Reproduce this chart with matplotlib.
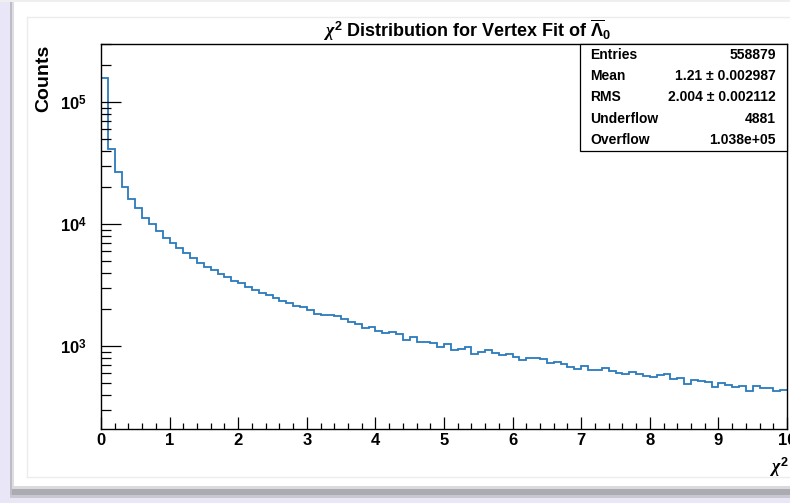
import matplotlib
matplotlib.use("Agg")
import matplotlib.pyplot as plt
import numpy as np
from matplotlib.patches import Rectangle
from matplotlib.lines import Line2D
from matplotlib.ticker import LogLocator, MultipleLocator, FuncFormatter, NullFormatter

plt.rcParams['font.family'] = ['Liberation Sans', 'DejaVu Sans']
plt.rcParams['font.weight'] = 'bold'
plt.rcParams['mathtext.fontset'] = 'custom'
plt.rcParams['mathtext.rm'] = 'Liberation Sans:bold'
plt.rcParams['mathtext.bf'] = 'Liberation Sans:bold'
plt.rcParams['mathtext.sf'] = 'Liberation Sans:bold'
plt.rcParams['mathtext.it'] = 'Liberation Serif:italic'

# ---------------- data ----------------
x_range = (0.0, 10.0)
n_bins = 100
counts = [
    159000, 41200, 26700, 20100, 16100, 13500, 11200, 10000, 8800, 7680,
    6990, 6360, 5790, 5270, 4790, 4490, 4170, 3900, 3700, 3430,
    3260, 3060, 2880, 2740, 2600, 2470, 2360, 2250, 2140, 2090,
    1970, 1840, 1800, 1790, 1750, 1660, 1580, 1520, 1400, 1430,
    1320, 1280, 1300, 1250, 1130, 1180, 1080, 1075, 1060, 980,
    1040, 930, 945, 990, 865, 900, 920, 875, 850, 860,
    812, 772, 797, 795, 787, 725, 737, 712, 673, 648,
    690, 639, 636, 655, 619, 601, 590, 612, 588, 563,
    553, 582, 593, 537, 547, 488, 522, 513, 503, 461,
    497, 475, 460, 467, 430, 466, 453, 452, 425, 438,
]
stat_names = ["Entries", "Mean", "RMS", "Underflow", "Overflow"]
stat_values = ["558879", "1.21 \u00b1 0.002987", "2.004 \u00b1 0.002112", "4881", "1.038e+05"]
title = r"$\chi^2$ Distribution for Vertex Fit of $\overline{\Lambda}_0$"
y_title = "Counts"
x_title = r"$\chi^2$"
y_limits = (210, 3.0e5)

# ---------------- figure ----------------
W, H = 790, 503
fig = plt.figure(figsize=(W / 100, H / 100), dpi=100)
fig.patch.set_facecolor("white")


def prect(x0, y0, x1, y1, color, z=-10):
    fig.add_artist(Rectangle((x0 / W, 1 - y1 / H), (x1 - x0) / W, (y1 - y0) / H,
                             transform=fig.transFigure, facecolor=color, lw=0, zorder=z))


def pline(xs, ys, color, lw=1.0):
    fig.add_artist(Line2D([x / W for x in xs], [1 - y / H for y in ys],
                          transform=fig.transFigure, color=color, lw=lw, zorder=-5))


lav = "#E9E6F8"
prect(0, 0, 10, H, lav)
prect(10, 0, 12, 498, "#BEBDC6")
prect(12, 0, 14, 496, "#DEDDE3")
prect(0, 0, W, 2, "#EFEFEF")
prect(12, 486, W, 489, "#D9D9DE")
prect(12, 489, W, 495, "#ABABB2")
prect(10, 495, W, 498, "#C9C8D1")
prect(0, 498, W, H, lav)
pline([26.5, 26.5], [17, 477], "#ECECEC")
pline([26.5, W], [17, 17], "#ECECEC")
pline([26.5, W], [477, 477], "#ECECEC")

ax_l, ax_r, ax_t, ax_b = 101, 787, 44, 428.7
ax = fig.add_axes([ax_l / W, 1 - ax_b / H, (ax_r - ax_l) / W, (ax_b - ax_t) / H])

edges = np.linspace(x_range[0], x_range[1], n_bins + 1)
ax.stairs(counts, edges, baseline=None, color="#2b7bbd", lw=1.3)

ax.set_yscale("log")
ax.set_xlim(*x_range)
ax.set_ylim(*y_limits)

for s in ax.spines.values():
    s.set_linewidth(1.0)
    s.set_color("black")

ax.xaxis.set_major_locator(MultipleLocator(1))
ax.xaxis.set_minor_locator(MultipleLocator(0.2))
ax.yaxis.set_major_locator(LogLocator(base=10, numticks=10))
ax.yaxis.set_minor_locator(LogLocator(base=10, subs=np.arange(2, 10), numticks=20))
ax.yaxis.set_major_formatter(FuncFormatter(lambda v, p: r"$10^{%d}$" % round(np.log10(v))))
ax.yaxis.set_minor_formatter(NullFormatter())
ax.xaxis.set_major_formatter(FuncFormatter(lambda v, p: "%d" % round(v)))

ax.tick_params(axis="y", which="major", direction="in", length=14.5, width=0.9,
               labelsize=12, pad=10, right=False)
ax.tick_params(axis="y", which="minor", direction="in", length=7.2, width=0.9, right=False)
ax.tick_params(axis="x", which="major", direction="in", length=8.6, width=0.9,
               labelsize=12, pad=3, top=False)
ax.tick_params(axis="x", which="minor", direction="in", length=4.3, width=0.9, top=False)

# titles
fig.text(467 / W, 1 - 30 / H, title, ha="center", va="center", fontsize=13, fontweight="bold")
fig.text(44 / W, 1 - 78 / H, y_title, rotation=90, ha="center", va="center",
         fontsize=14, fontweight="bold")
fig.text(769 / W, 1 - 467 / H, x_title, ha="left", va="center", fontsize=13)

# stats box
bx0, by0, bx1, by1 = 580, 44, 787, 150.7
fig.add_artist(Rectangle((bx0 / W, 1 - by1 / H), (bx1 - bx0) / W, (by1 - by0) / H,
                         transform=fig.transFigure, facecolor="white", edgecolor="black",
                         lw=0.9, zorder=5))
row_h = (by1 - by0) / len(stat_names)
for i, (nm, val) in enumerate(zip(stat_names, stat_values)):
    yc = by0 + row_h * (i + 0.5)
    fig.text(590.5 / W, 1 - yc / H, nm, ha="left", va="center", fontsize=10,
             fontweight="bold", zorder=6)
    fig.text(776 / W, 1 - yc / H, val, ha="right", va="center", fontsize=10,
             fontweight="bold", zorder=6)

fig.savefig("out.png", dpi=100)
